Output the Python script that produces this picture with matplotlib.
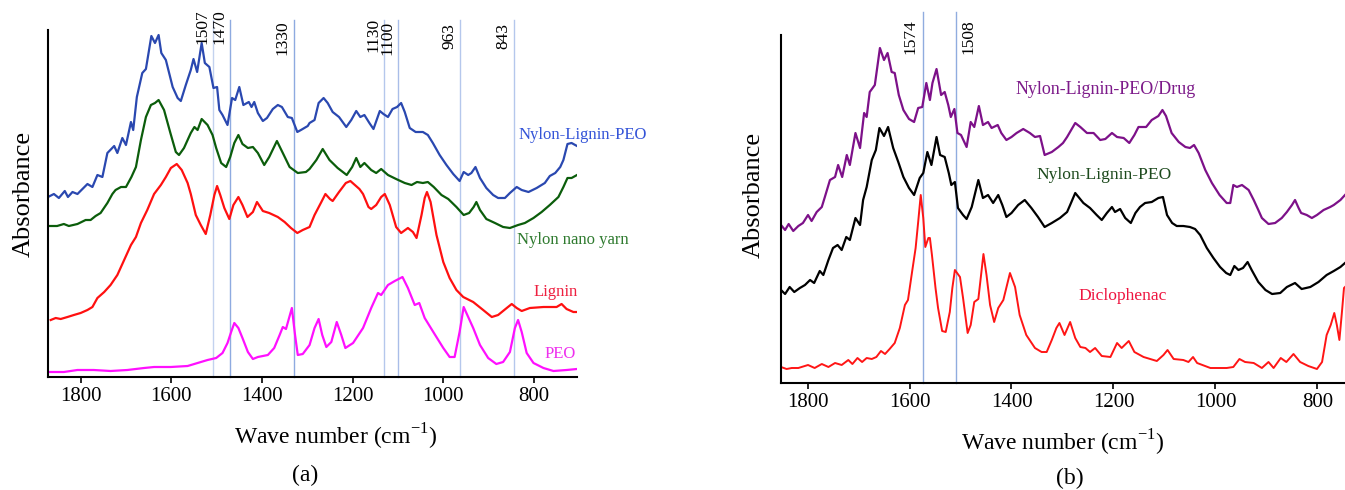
import matplotlib
matplotlib.use("Agg")
import matplotlib.pyplot as plt

plt.rcParams['font.family'] = ['Liberation Serif', 'DejaVu Serif']
plt.rcParams['mathtext.fontset'] = 'custom'
plt.rcParams['mathtext.rm'] = 'Liberation Serif'

# ---- (a) FTIR spectra, stacked with offsets (absorbance in arbitrary units) ----
nlp_a_wn = [1872, 1859, 1848, 1835, 1828, 1818, 1807, 1785, 1774, 1763,
            1752, 1741, 1726, 1719, 1708, 1700, 1689, 1684, 1676, 1664,
            1656, 1644, 1636, 1628, 1622, 1612, 1597, 1586, 1579, 1568,
            1557, 1551, 1543, 1533, 1526, 1516, 1507, 1499, 1494, 1487,
            1476, 1466, 1459, 1450, 1441, 1429, 1423, 1417, 1409, 1398,
            1389, 1376, 1365, 1356, 1343, 1334, 1322, 1314, 1299, 1295,
            1284, 1275, 1264, 1255, 1244, 1230, 1214, 1203, 1192, 1183,
            1174, 1163, 1154, 1140, 1132, 1122, 1112, 1102, 1093, 1085,
            1074, 1061, 1045, 1034, 1023, 1008, 993, 978, 964, 955,
            945, 938, 929, 919, 905, 890, 879, 864, 853, 838,
            827, 812, 794, 776, 765, 753, 742, 735, 726, 717,
            705]
nlp_a_abs = [180, 183, 179, 186, 180, 185, 183, 193, 190, 202,
             200, 224, 231, 224, 239, 232, 255, 247, 280, 304,
             308, 341, 334, 342, 324, 317, 290, 279, 276, 292,
             307, 318, 305, 334, 314, 310, 289, 290, 267, 262,
             252, 279, 277, 290, 272, 275, 270, 275, 264, 256,
             259, 268, 272, 270, 260, 259, 245, 247, 251, 254,
             257, 274, 279, 274, 265, 260, 250, 257, 266, 260,
             262, 254, 248, 266, 263, 260, 268, 270, 274, 265,
             249, 245, 245, 242, 234, 222, 212, 203, 196, 205,
             202, 204, 210, 199, 189, 182, 179, 179, 184, 190,
             187, 185, 189, 194, 201, 204, 210, 217, 233, 234,
             231]

yarn_wn = [1870, 1852, 1837, 1826, 1807, 1789, 1778, 1767, 1756, 1741,
           1730, 1723, 1711, 1700, 1688, 1678, 1667, 1656, 1645, 1636,
           1628, 1616, 1602, 1590, 1583, 1572, 1557, 1549, 1542, 1533,
           1520, 1509, 1501, 1490, 1479, 1470, 1461, 1452, 1443, 1431,
           1420, 1409, 1395, 1384, 1367, 1354, 1339, 1321, 1303, 1295,
           1280, 1266, 1251, 1233, 1213, 1201, 1192, 1183, 1174, 1159,
           1148, 1137, 1122, 1104, 1085, 1070, 1058, 1045, 1034, 1021,
           1004, 989, 971, 955, 943, 933, 927, 919, 905, 886,
           868, 853, 835, 820, 801, 783, 765, 746, 735, 726,
           717, 705]
yarn_abs = [151, 151, 153, 151, 153, 157, 157, 161, 164, 174,
            183, 187, 190, 190, 200, 210, 237, 260, 272, 274,
            277, 267, 244, 225, 222, 229, 244, 250, 247, 258,
            252, 242, 229, 214, 210, 220, 234, 242, 233, 229,
            230, 224, 212, 220, 236, 224, 210, 204, 205, 208,
            217, 228, 217, 209, 202, 210, 219, 210, 214, 207,
            204, 208, 202, 198, 194, 192, 195, 194, 195, 190,
            182, 178, 170, 162, 164, 170, 175, 167, 158, 154,
            150, 149, 152, 154, 159, 165, 172, 180, 190, 199,
            199, 202]

lignin_wn = [1866, 1855, 1844, 1829, 1815, 1800, 1785, 1774, 1763, 1748,
             1734, 1719, 1704, 1689, 1678, 1667, 1653, 1638, 1623, 1612,
             1601, 1588, 1577, 1564, 1557, 1546, 1535, 1524, 1514, 1505,
             1499, 1492, 1483, 1472, 1463, 1452, 1443, 1432, 1420, 1411,
             1398, 1384, 1365, 1350, 1336, 1322, 1310, 1295, 1284, 1269,
             1260, 1250, 1244, 1230, 1215, 1205, 1195, 1185, 1177, 1165,
             1159, 1148, 1137, 1129, 1118, 1104, 1093, 1078, 1067, 1059,
             1048, 1041, 1036, 1028, 1015, 1000, 986, 971, 956, 934,
             912, 893, 879, 860, 849, 838, 827, 809, 779, 750,
             739, 728, 713, 705]
lignin_abs = [57, 59, 58, 60, 62, 64, 67, 70, 79, 85,
              92, 102, 117, 132, 140, 154, 167, 183, 192, 200,
              209, 213, 207, 194, 183, 162, 152, 143, 162, 182,
              191, 182, 169, 158, 172, 180, 172, 160, 165, 175,
              166, 164, 160, 155, 149, 144, 147, 150, 162, 175,
              183, 178, 176, 185, 194, 196, 192, 188, 183, 170,
              168, 172, 180, 183, 172, 150, 144, 149, 145, 139,
              162, 179, 185, 175, 142, 115, 99, 87, 80, 75,
              67, 60, 62, 69, 73, 69, 66, 69, 70, 70,
              73, 68, 65, 65]

peo_wn = [1870, 1837, 1807, 1771, 1734, 1697, 1660, 1638, 1601, 1564,
          1542, 1520, 1501, 1487, 1476, 1468, 1461, 1452, 1443, 1431,
          1420, 1409, 1398, 1387, 1373, 1361, 1354, 1347, 1334, 1327,
          1321, 1310, 1295, 1284, 1275, 1267, 1258, 1247, 1235, 1225,
          1216, 1199, 1177, 1159, 1144, 1137, 1122, 1107, 1090, 1078,
          1063, 1053, 1041, 1022, 1000, 986, 975, 964, 955, 945,
          934, 919, 901, 883, 868, 853, 842, 835, 827, 816,
          801, 779, 757, 728, 705]
peo_abs = [5, 5, 7, 7, 6, 7, 9, 10, 10, 11,
           14, 17, 19, 24, 34, 45, 54, 49, 39, 25,
           18, 20, 21, 22, 29, 42, 50, 48, 69, 42,
           22, 23, 32, 49, 58, 42, 30, 35, 55, 42,
           29, 34, 49, 69, 84, 82, 92, 96, 100, 89,
           72, 74, 59, 45, 29, 20, 20, 45, 70, 60,
           49, 32, 19, 13, 15, 25, 49, 57, 45, 24,
           14, 9, 6, 7, 8]

peaks_a = [1507, 1470, 1330, 1130, 1100, 963, 843]
peaks_a_colors = ['#c3d2ef', '#8eaae0', '#8eaae0', '#b5c7ec', '#a9bde8', '#b5c7ec', '#b5c7ec']
peaks_a_top = [1.06, 1.06, 1.027, 1.035, 1.027, 1.02, 1.02]

# ---- (b) spectra with the drug ----
drug_wn = [1852, 1844, 1837, 1828, 1818, 1809, 1799, 1792, 1782, 1772,
           1766, 1756, 1746, 1740, 1732, 1723, 1717, 1706, 1697, 1689,
           1684, 1678, 1668, 1658, 1650, 1643, 1635, 1629, 1621, 1612,
           1601, 1591, 1583, 1575, 1567, 1560, 1555, 1547, 1538, 1531,
           1524, 1519, 1512, 1506, 1499, 1488, 1480, 1473, 1464, 1456,
           1446, 1439, 1427, 1420, 1410, 1400, 1390, 1377, 1364, 1354,
           1344, 1335, 1321, 1308, 1299, 1291, 1275, 1265, 1252, 1239,
           1226, 1216, 1203, 1193, 1180, 1169, 1159, 1151, 1136, 1125,
           1112, 1104, 1097, 1086, 1072, 1059, 1050, 1042, 1033, 1020,
           1007, 992, 978, 971, 965, 958, 948, 935, 925, 916,
           909, 896, 883, 870, 860, 850, 844, 837, 832, 821,
           811, 801, 788, 775, 768, 755, 746]
drug_abs = [158, 153, 159, 152, 157, 160, 168, 162, 171, 176,
            186, 203, 206, 218, 206, 228, 218, 250, 235, 270,
            266, 291, 298, 335, 323, 330, 311, 310, 288, 273,
            264, 261, 275, 276, 300, 283, 300, 314, 288, 291,
            278, 266, 274, 250, 248, 236, 261, 256, 277, 258,
            261, 255, 258, 250, 243, 246, 250, 254, 250, 246,
            247, 228, 231, 236, 240, 246, 260, 256, 250, 250,
            243, 244, 250, 246, 245, 240, 248, 256, 256, 263,
            267, 273, 267, 250, 241, 236, 235, 238, 230, 213,
            200, 188, 180, 180, 198, 196, 198, 193, 183, 173,
            165, 159, 160, 165, 171, 178, 183, 175, 170, 168,
            165, 168, 173, 176, 178, 183, 188]

nlp_b_wn = [1852, 1844, 1835, 1826, 1815, 1805, 1795, 1787, 1776, 1769,
            1759, 1750, 1741, 1733, 1724, 1717, 1706, 1697, 1691, 1684,
            1674, 1666, 1659, 1650, 1642, 1632, 1622, 1612, 1601, 1591,
            1580, 1573, 1565, 1557, 1547, 1540, 1531, 1523, 1518, 1511,
            1505, 1495, 1488, 1478, 1465, 1456, 1446, 1436, 1426, 1418,
            1410, 1400, 1387, 1374, 1361, 1348, 1335, 1321, 1305, 1291,
            1285, 1275, 1259, 1246, 1233, 1223, 1213, 1203, 1197, 1187,
            1177, 1166, 1157, 1148, 1138, 1125, 1112, 1103, 1095, 1085,
            1076, 1063, 1050, 1040, 1030, 1017, 1004, 991, 979, 971,
            963, 955, 946, 937, 929, 916, 902, 889, 873, 860,
            844, 831, 814, 798, 782, 768, 755, 746]
nlp_b_abs = [93, 89, 96, 91, 95, 98, 103, 100, 112, 108,
             123, 135, 138, 133, 146, 143, 165, 158, 183, 196,
             223, 233, 255, 247, 256, 235, 221, 206, 195, 188,
             205, 210, 231, 218, 246, 228, 226, 210, 198, 201,
             175, 168, 164, 176, 203, 185, 188, 180, 188, 178,
             166, 170, 178, 183, 175, 166, 156, 160, 165, 171,
             178, 190, 180, 175, 168, 163, 170, 176, 171, 174,
             165, 160, 170, 176, 180, 181, 185, 186, 168, 160,
             157, 157, 156, 154, 148, 135, 125, 116, 110, 108,
             117, 113, 115, 121, 113, 101, 93, 89, 90, 96,
             100, 94, 96, 101, 108, 112, 116, 120]

diclo_wn = [1852, 1841, 1831, 1818, 1799, 1786, 1772, 1759, 1746, 1733,
            1720, 1712, 1702, 1693, 1684, 1674, 1665, 1656, 1648, 1639,
            1629, 1619, 1609, 1603, 1595, 1588, 1583, 1578, 1573, 1569,
            1563, 1560, 1556, 1549, 1544, 1536, 1529, 1521, 1516, 1511,
            1501, 1495, 1486, 1480, 1473, 1465, 1455, 1449, 1442, 1434,
            1426, 1416, 1403, 1393, 1384, 1371, 1354, 1341, 1331, 1321,
            1312, 1306, 1296, 1285, 1275, 1265, 1255, 1246, 1236, 1223,
            1206, 1193, 1184, 1170, 1159, 1141, 1115, 1102, 1094, 1082,
            1063, 1053, 1044, 1036, 1010, 978, 965, 953, 942, 925,
            909, 896, 886, 872, 861, 847, 834, 818, 801, 791,
            782, 774, 767, 762, 757, 752, 748, 746]
diclo_abs = [16, 14, 15, 15, 18, 15, 19, 16, 20, 18,
             23, 19, 25, 21, 25, 24, 26, 32, 29, 34,
             40, 55, 78, 83, 111, 135, 161, 188, 165, 136,
             145, 145, 128, 95, 75, 52, 51, 71, 95, 113,
             106, 85, 50, 58, 81, 84, 129, 108, 78, 61,
             75, 83, 110, 96, 68, 48, 35, 31, 31, 43,
             55, 60, 48, 61, 45, 36, 35, 31, 35, 27,
             26, 40, 35, 42, 31, 26, 22, 28, 33, 24,
             23, 21, 26, 20, 15, 15, 16, 24, 21, 20,
             15, 21, 15, 25, 21, 29, 21, 17, 14, 21,
             48, 58, 70, 58, 43, 71, 95, 96]

peaks_b = [1574, 1508]

ticks = [1800, 1600, 1400, 1200, 1000, 800]
xlabel = r'Wave number (cm$^{\mathrm{-1}}$)'

fig = plt.figure(figsize=(13.45, 4.9), dpi=100)
ax1 = fig.add_axes([48/1345, 113/490, 529/1345, 347/490])
ax2 = fig.add_axes([781/1345, 107/490, 564/1345, 348/490])


def style(ax, xlim, ytop):
    ax.set_xlim(*xlim)
    ax.set_ylim(0, ytop)
    ax.set_xticks(ticks)
    ax.set_yticks([])
    for s in ['top', 'right']:
        ax.spines[s].set_visible(False)
    for s in ['left', 'bottom']:
        ax.spines[s].set_linewidth(1.5)
    ax.tick_params(axis='x', direction='out', length=4, width=1.2, pad=3, labelsize=15)
    ax.set_xlabel(xlabel, fontsize=17)
    ax.set_ylabel('Absorbance', fontsize=19)


style(ax1, (1872, 705), 347)
style(ax2, (1852, 746), 348)

for wn, top, c in zip(peaks_a, peaks_a_top, peaks_a_colors):
    ax1.axvline(wn, ymin=0, ymax=1.03, color=c, lw=1.0, clip_on=False, zorder=1)
    ax1.annotate(str(wn), xy=(wn, top), xycoords=('data', 'axes fraction'),
                 xytext=(-2, 0), textcoords='offset points',
                 rotation=90, ha='right', va='top', fontsize=12.5, annotation_clip=False)

ax1.plot(nlp_a_wn, nlp_a_abs, color='#2a48b0', lw=1.6)
ax1.plot(yarn_wn, yarn_abs, color='#0b5d0b', lw=1.6)
ax1.plot(lignin_wn, lignin_abs, color='#ff1010', lw=1.6)
ax1.plot(peo_wn, peo_abs, color='#ff10ff', lw=1.6)

ax1.text(835, 242, 'Nylon-Lignin-PEO', color='#3454d8', fontsize=12, va='center')
ax1.text(837, 137, 'Nylon nano yarn', color='#2e7a2e', fontsize=12, va='center')
ax1.text(802, 85, 'Lignin', color='#ee2040', fontsize=12, va='center')
ax1.text(776, 23, 'PEO', color='#ee30ee', fontsize=12, va='center')

for wn in peaks_b:
    ax2.axvline(wn, ymin=0, ymax=1.066, color='#90acdf', lw=1.0, clip_on=False, zorder=1)
ax2.annotate('1574', xy=(1574, 1.046), xycoords=('data', 'axes fraction'),
             xytext=(-3, 0), textcoords='offset points',
             rotation=90, ha='right', va='top', fontsize=12.5, annotation_clip=False)
ax2.annotate('1508', xy=(1508, 1.046), xycoords=('data', 'axes fraction'),
             xytext=(3, 0), textcoords='offset points',
             rotation=90, ha='left', va='top', fontsize=12.5, annotation_clip=False)

ax2.plot(drug_wn, drug_abs, color='#7d1189', lw=1.6)
ax2.plot(nlp_b_wn, nlp_b_abs, color='#000000', lw=1.6)
ax2.plot(diclo_wn, diclo_abs, color='#ff1515', lw=1.4)

ax2.text(1393, 293, 'Nylon-Lignin-PEO/Drug', color='#7d1b8a', fontsize=13, va='center')
ax2.text(1352, 208, 'Nylon-Lignin-PEO', color='#1d4a1d', fontsize=12.6, va='center')
ax2.text(1269, 87, 'Diclophenac', color='#ee1540', fontsize=12.6, va='center')

ax1.xaxis.set_label_coords(0.544, -0.13)
ax2.xaxis.set_label_coords(0.5, -0.13)
ax1.yaxis.set_label_coords(-0.025, 0.527)
ax2.yaxis.set_label_coords(-0.028, 0.54)

fig.text(305/1345, 1 - 475/490, '(a)', fontsize=17, ha='center', va='center')
fig.text(1070/1345, 1 - 478/490, '(b)', fontsize=17, ha='center', va='center')

fig.savefig('out.png', dpi=100)
